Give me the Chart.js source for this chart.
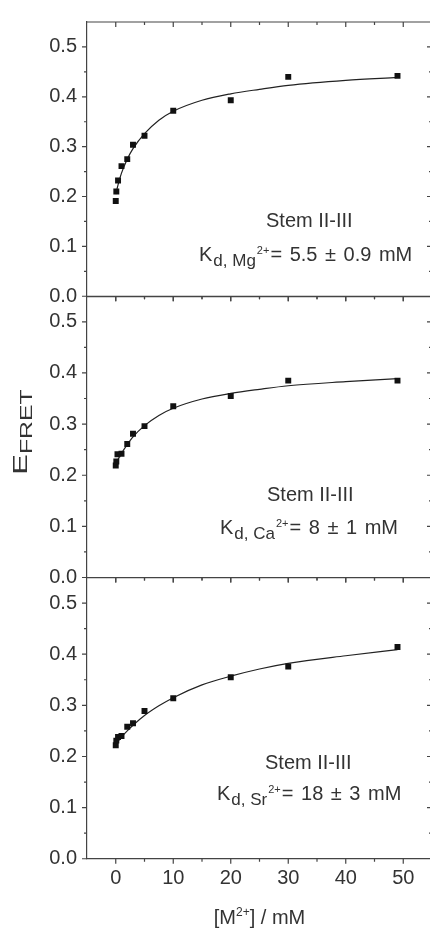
<!DOCTYPE html>
<html><head><meta charset="utf-8">
<script src="https://cdn.jsdelivr.net/npm/chart.js@4.4.0/dist/chart.umd.min.js"></script>
<style>
html,body{margin:0;padding:0;background:#fff;overflow:hidden;width:430px;height:929px;}
canvas{position:absolute;left:0;top:0;}
</style></head><body>
<canvas id="c0" width="440" height="929"></canvas>
<canvas id="c1" width="440" height="929"></canvas>
<canvas id="c2" width="440" height="929"></canvas>
<script>
// ---------- data ----------
const concMg = [0, 0.1, 0.4, 1, 2, 3, 5, 10, 20, 30, 49];
const effMg  = [0.191, 0.210, 0.232, 0.261, 0.275, 0.304, 0.322, 0.372, 0.393, 0.440, 0.442];
const concCa = [0, 0.1, 0.3, 1, 2, 3, 5, 10, 20, 30, 49];
const effCa  = [0.219, 0.227, 0.241, 0.242, 0.261, 0.281, 0.296, 0.335, 0.355, 0.385, 0.385];
const concSr = [0, 0.1, 0.4, 1, 2, 3, 5, 10, 20, 30, 49];
const effSr  = [0.222, 0.231, 0.238, 0.240, 0.258, 0.265, 0.289, 0.314, 0.355, 0.376, 0.414];
const fitConc = [0, 0.5, 1, 2, 3, 5, 7.5, 10, 15, 20, 25, 30, 40, 49];
const fitMg = [0.205, 0.228, 0.247, 0.275, 0.296, 0.326, 0.353, 0.371, 0.393, 0.406, 0.415, 0.423, 0.433, 0.439];
const fitCa = [0.222, 0.233, 0.243, 0.260, 0.275, 0.297, 0.317, 0.331, 0.349, 0.360, 0.368, 0.375, 0.383, 0.389];
const fitSr = [0.225, 0.231, 0.238, 0.250, 0.261, 0.280, 0.299, 0.315, 0.340, 0.357, 0.371, 0.382, 0.397, 0.409];
const yTickValues = [0, 0.1, 0.2, 0.3, 0.4, 0.5];
const xTickValues = [0, 10, 20, 30, 40, 50];
const ionLabels = ['Mg', 'Ca', 'Sr'];
const kdTexts = ['= 5.5 ± 0.9 mM', '= 8 ± 1 mM', '= 18 ± 3 mM'];
const constructLabel = 'Stem II-III';
const yAxisTitle = ['E', 'FRET'];
const xAxisTitle = ['[M', '2+', '] / mM'];

// ---------- layout / style ----------
const FONT = '"Liberation Sans", Arial, Helvetica, sans-serif';
const TEXT = '#333';
const AXIS = '#444';
const panelTop0 = 15, panelH = 281.25, plotLeft = 87, canvasW = 440, plotRight = 432, canvasH = 929;
const annot = [
  {stemX: 266, stemY: 204.5, kX: 199, kY: 238.5},
  {stemX: 267, stemY: 204.7, kX: 220, kY: 237.5},
  {stemX: 265, stemY: 191.0, kX: 217, kY: 222.7}
];
Chart.defaults.font.family = FONT;

function pts(xs, ys){ return xs.map((x,i)=>({x:x, y:ys[i]})); }

const framePlugin = {
  id: 'frame',
  afterDraw(chart){
    const {ctx, chartArea:{left,right,top,bottom}, scales:{x,y}} = chart;
    ctx.save();
    ctx.strokeStyle = AXIS; ctx.lineWidth = 1.2;
    ctx.beginPath();
    ctx.moveTo(left, top); ctx.lineTo(right, top); ctx.lineTo(right, bottom);
    for (let k = 1; k <= 10; k++) {
      const v = k * 0.05, py = y.getPixelForValue(v);
      const len = (k % 2 === 0) ? 5 : 3;
      ctx.moveTo(left, py); ctx.lineTo(left - len, py);
      ctx.moveTo(right, py); ctx.lineTo(right - len, py);
    }
    { const py = y.getPixelForValue(0); ctx.moveTo(left, py); ctx.lineTo(left - 5, py); }
    for (let k = 0; k <= 10; k++) {
      const v = k * 5, px = x.getPixelForValue(v);
      const len = (k % 2 === 0) ? 5 : 3;
      ctx.moveTo(px, bottom); ctx.lineTo(px, bottom + len);
      ctx.moveTo(px, top); ctx.lineTo(px, top + len);
    }
    ctx.stroke();
    // annotations
    const i = chart.options.plugins.frame.index;
    const a = annot[i];
    ctx.fillStyle = TEXT; ctx.textAlign = 'left'; ctx.textBaseline = 'alphabetic';
    ctx.font = '20px ' + FONT;
    ctx.fillText(constructLabel, a.stemX, top + a.stemY);
    let cx = a.kX; const by = top + a.kY;
    ctx.fillText('K', cx, by); cx += ctx.measureText('K').width + 1;
    ctx.font = '17px ' + FONT;
    const sub = 'd, ' + ionLabels[i];
    ctx.fillText(sub, cx, by + 5); cx += ctx.measureText(sub).width + 1;
    ctx.font = '11px ' + FONT;
    ctx.fillText('2+', cx, by - 7); cx += ctx.measureText('2+').width + 1;
    ctx.font = '20px ' + FONT;
    if ('wordSpacing' in ctx) ctx.wordSpacing = '2px';
    ctx.fillText(kdTexts[i], cx, by);
    if ('wordSpacing' in ctx) ctx.wordSpacing = '0px';
    if (i === 1) {
      ctx.save();
      ctx.translate(27, 432);
      ctx.rotate(-Math.PI/2);
      ctx.scale(1.55, 1);
      ctx.font = '20px ' + FONT;
      const wE = ctx.measureText(yAxisTitle[0]).width;
      ctx.font = '16px ' + FONT;
      const wF = ctx.measureText(yAxisTitle[1]).width;
      const start = -(wE + wF) / 2;
      ctx.font = '20px ' + FONT;
      ctx.fillText(yAxisTitle[0], start, 0);
      ctx.font = '16px ' + FONT;
      ctx.fillText(yAxisTitle[1], start + wE, 5);
      ctx.restore();
    }
    if (i === 2) {
      ctx.font = '20px ' + FONT;
      const w0 = ctx.measureText(xAxisTitle[0]).width;
      const w2 = ctx.measureText(xAxisTitle[2]).width;
      ctx.font = '12px ' + FONT;
      const w1 = ctx.measureText(xAxisTitle[1]).width;
      let tx = (left + right) / 2 - (w0 + w1 + w2) / 2;
      const ty = 924;
      ctx.font = '20px ' + FONT; ctx.fillText(xAxisTitle[0], tx, ty); tx += w0;
      ctx.font = '12px ' + FONT; ctx.fillText(xAxisTitle[1], tx, ty - 8); tx += w1;
      ctx.font = '20px ' + FONT; ctx.fillText(xAxisTitle[2], tx, ty);
    }
    ctx.restore();
  }
};

const sets = [
  [concMg, effMg, fitMg],
  [concCa, effCa, fitCa],
  [concSr, effSr, fitSr]
];

sets.forEach((s, i) => {
  const isBottom = i === 2;
  const top = panelTop0 + i * panelH;
  const bottom = top + panelH;
  new Chart(document.getElementById('c' + i), {
    type: 'scatter',
    data: {
      datasets: [
        {data: pts(s[0], s[1]), pointStyle: 'rect', pointRadius: 4.2, backgroundColor: '#111', borderWidth: 0, showLine: false},
        {data: pts(fitConc, s[2]), showLine: true, pointRadius: 0, borderColor: '#222', borderWidth: 1.2, cubicInterpolationMode: 'monotone', fill: false}
      ]
    },
    options: {
      responsive: false, animation: false, events: [],
      layout: {padding: {left: 0, top: top, right: canvasW - plotRight, bottom: isBottom ? 0 : canvasH - bottom}},
      plugins: {legend: {display: false}, tooltip: {enabled: false}, frame: {index: i}},
      scales: {
        x: {
          type: 'linear', min: -5, max: 55,
          grid: {display: false, drawTicks: false},
          border: {display: true, color: AXIS, width: 1.2},
          ticks: {display: isBottom, padding: 7.5, color: TEXT, font: {size: 20, family: FONT}, maxRotation: 0, callback: v => String(v)},
          afterBuildTicks: sc => { sc.ticks = xTickValues.map(v => ({value: v})); },
          afterFit: sc => { sc.height = isBottom ? canvasH - bottom : 0; }
        },
        y: {
          type: 'linear', min: 0, max: 0.55,
          grid: {display: false, drawTicks: false},
          border: {display: true, color: AXIS, width: 1.2},
          ticks: {padding: 10, color: TEXT, font: {size: 20, family: FONT}, callback: v => Number(v).toFixed(1)},
          afterBuildTicks: sc => { sc.ticks = yTickValues.map(v => ({value: v})); },
          afterFit: sc => { sc.width = plotLeft; }
        }
      }
    },
    plugins: [framePlugin]
  });
});
</script>
</body></html>
